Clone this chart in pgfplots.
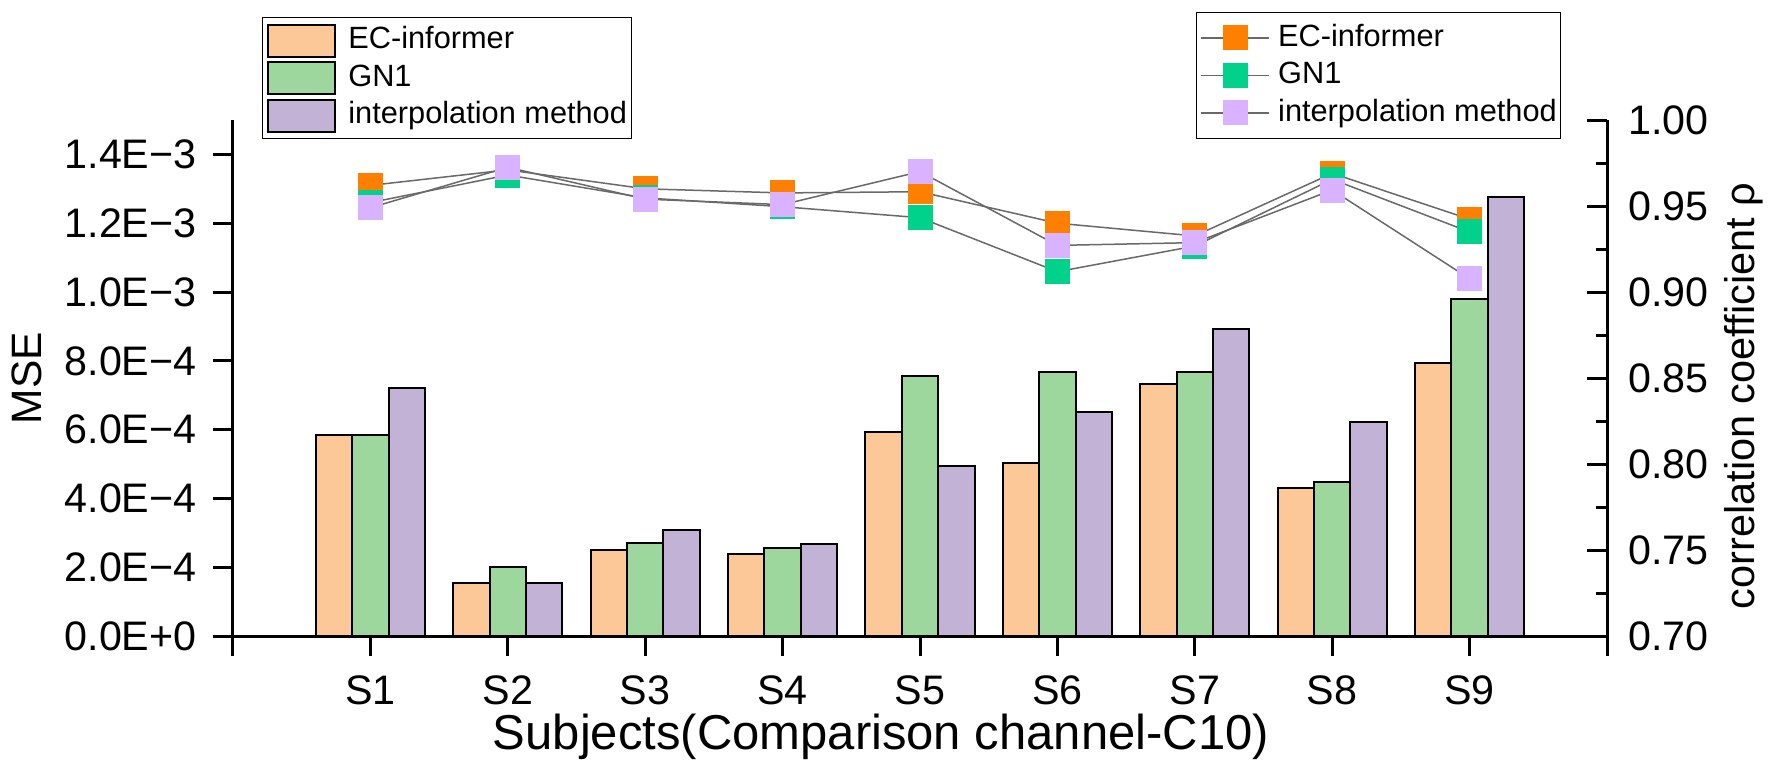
\documentclass[border=0pt]{standalone}
\usepackage{fontspec}
\setmainfont{Liberation Sans}
\usepackage{pgfplots}
\pgfplotsset{compat=1.18}
\definecolor{barO}{RGB}{252,200,152}
\definecolor{barG}{RGB}{158,215,158}
\definecolor{barP}{RGB}{194,178,214}
\definecolor{mO}{RGB}{255,128,0}
\definecolor{mG}{RGB}{0,210,140}
\definecolor{mP}{RGB}{217,179,255}
\definecolor{lgray}{RGB}{105,105,105}
\begin{document}
\begin{tikzpicture}
\begin{axis}[
  name=ax,
  scale only axis, width=549.6pt, height=206.4pt,
  xmin=0, xmax=10, ymin=0, ymax=1.5e-3,
  axis x line*=bottom, axis y line*=left,
  axis line style={-, line width=1.2pt},
  xtick={0,1,2,3,4,5,6,7,8,9,10},
  xticklabels={,S1,S2,S3,S4,S5,S6,S7,S8,S9,},
  ytick={0,0.0002,0.0004,0.0006,0.0008,0.001,0.0012,0.0014},
  yticklabels={0.0E+0,2.0E−4,4.0E−4,6.0E−4,8.0E−4,1.0E−3,1.2E−3,1.4E−3},
  scaled y ticks=false,
  tick align=outside, major tick length=8pt,
  tick style={line width=1.2pt, black},
  tick label style={font=\fontsize{16.5}{19.8}\selectfont},
  yticklabel style={anchor=east, inner sep=0pt, xshift=-6.4pt},
  xticklabel style={anchor=north, inner sep=0pt, yshift=-7.8pt},
  xlabel={Subjects(Comparison channel-C10)},
  xlabel style={font=\fontsize{19.6}{23.5}\selectfont, at={(axis description cs:0.4716,-0.219)}, anchor=base, inner sep=0pt},
  ylabel={MSE},
  ylabel style={font=\fontsize{17}{20.4}\selectfont, at={(axis description cs:-0.1499,0.5)}, anchor=center, inner sep=0pt},
  legend style={at={(axis description cs:0.0211,1.1996)}, anchor=north west,
    draw=black, line width=0.5pt, font=\fontsize{12.3}{14.8}\selectfont,
    inner xsep=1.9pt, inner ysep=2.4pt, row sep=1.4pt, column sep=4.8pt,
    nodes={inner sep=0pt, text height=9.2pt, text depth=2.6pt}, cells={anchor=west}},
  legend image code/.code={\draw[#1] (0pt,-6.4pt) rectangle (26.8pt,6.4pt);},
]
\addplot[ybar, bar width=0.2653, bar shift=-0.2653, fill=barO, draw=black, line width=0.8pt]
  coordinates {(1,0.585e-3) (2,0.153e-3) (3,0.250e-3) (4,0.237e-3) (5,0.594e-3) (6,0.502e-3) (7,0.734e-3) (8,0.429e-3) (9,0.794e-3)};
\addlegendentry{EC-informer}
\addplot[ybar, bar width=0.2653, bar shift=0, fill=barG, draw=black, line width=0.8pt]
  coordinates {(1,0.583e-3) (2,0.200e-3) (3,0.271e-3) (4,0.256e-3) (5,0.757e-3) (6,0.766e-3) (7,0.768e-3) (8,0.447e-3) (9,0.980e-3)};
\addlegendentry{GN1}
\addplot[ybar, bar width=0.2653, bar shift=0.2653, fill=barP, draw=black, line width=0.8pt]
  coordinates {(1,0.721e-3) (2,0.153e-3) (3,0.308e-3) (4,0.267e-3) (5,0.495e-3) (6,0.652e-3) (7,0.891e-3) (8,0.623e-3) (9,1.277e-3)};
\addlegendentry{interpolation method}
\end{axis}
\begin{axis}[
  scale only axis, width=549.6pt, height=206.4pt,
  xmin=0, xmax=10, ymin=0.7, ymax=1.0,
  axis x line=none, axis y line*=right,
  axis line style={-, line width=1.2pt},
  ytick={0.7,0.75,0.8,0.85,0.9,0.95,1.0},
  yticklabels={0.70,0.75,0.80,0.85,0.90,0.95,1.00},
  minor y tick num=1,
  tick align=inside, major tick length=8pt, minor tick length=4.4pt,
  tick style={line width=1.2pt, black},
  tick label style={font=\fontsize{16.5}{19.8}\selectfont},
  yticklabel style={anchor=west, inner sep=0pt, xshift=8.4pt},
  ylabel={correlation coefficient ρ},
  ylabel style={font=\fontsize{16.6}{20}\selectfont, at={(axis description cs:1.107,0.465)}, anchor=base, inner sep=0pt},
  legend style={at={(axis description cs:0.7009,1.2099)}, anchor=north west,
    draw=black, line width=0.5pt, font=\fontsize{12.3}{14.8}\selectfont,
    inner xsep=1.6pt, inner ysep=4.3pt, row sep=3.2pt, column sep=3.2pt,
    nodes={inner sep=0pt, text height=9.2pt, text depth=2.6pt}, cells={anchor=west}},
  legend image code/.code={\draw[mark repeat=2,mark phase=2,#1] plot coordinates {(0pt,0pt) (13.6pt,0pt) (27.2pt,0pt)};},
]
\addplot[color=lgray, line width=0.6pt, mark=square*, mark size=4.8pt, mark options={solid, fill=mO, draw=mO, line width=0pt}]
  coordinates {(1,0.962) (2,0.971) (3,0.960) (4,0.9576) (5,0.9583) (6,0.940) (7,0.9326) (8,0.969) (9,0.9423)};
\addlegendentry{EC-informer}
\addplot[color=lgray, line width=0.6pt, mark=square*, mark size=4.8pt, mark options={solid, fill=mG, draw=mG, line width=0pt}]
  coordinates {(1,0.952) (2,0.968) (3,0.9547) (4,0.9496) (5,0.9432) (6,0.9118) (7,0.9267) (8,0.9655) (9,0.9349)};
\addlegendentry{GN1}
\addplot[color=lgray, line width=0.6pt, mark=square*, mark size=4.8pt, mark options={solid, fill=mP, draw=mP, line width=0pt}]
  coordinates {(1,0.949) (2,0.9725) (3,0.954) (4,0.9508) (5,0.970) (6,0.9271) (7,0.9287) (8,0.9593) (9,0.9077)};
\addlegendentry{interpolation method}
\end{axis}
\path ([shift={(-93.2pt,-56pt)}]ax.south west) rectangle ([shift={(617.6pt,254.4pt)}]ax.south west);
\end{tikzpicture}
\end{document}
